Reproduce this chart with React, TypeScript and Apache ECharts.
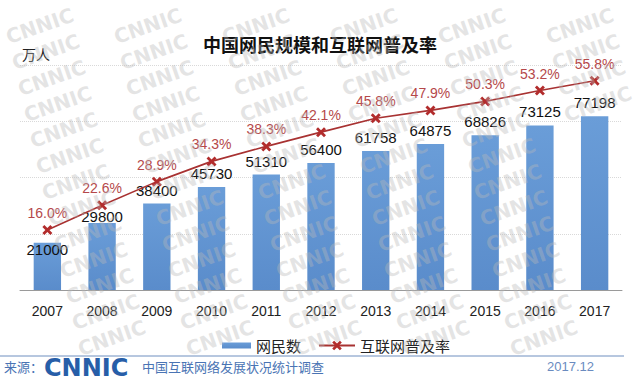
import React, { useEffect, useRef } from "react";
import * as echarts from "echarts";

const years = ["2007", "2008", "2009", "2010", "2011", "2012", "2013", "2014", "2015", "2016", "2017"];
const netizens = [21000, 29800, 38400, 45730, 51310, 56400, 61758, 64875, 68826, 73125, 77198];
const penetration = [16.0, 22.6, 28.9, 34.3, 38.3, 42.1, 45.8, 47.9, 50.3, 53.2, 55.8];
const barName = "网民数";
const lineName = "互联网普及率";
const titleText = "中国网民规模和互联网普及率";
const unitText = "万人";
const sourceLabel = "来源：";
const sourceOrg = "CNNIC";
const sourceSurvey = "中国互联网络发展状况统计调查";
const sourceDate = "2017.12";
const watermarkText = "CNNIC";

const X_SYMBOL = "path://M2,0 L5,3 L8,0 L10,2 L7,5 L10,8 L8,10 L5,7 L2,10 L0,8 L3,5 L0,2 Z";

export default function App() {
  const ref = useRef<HTMLDivElement>(null);
  useEffect(() => {
    document.body.style.margin = "0";
    if (!ref.current) return;
    const chart = echarts.init(ref.current, undefined, { renderer: "svg" });

    // decorative watermark layer (kept fully inside the canvas)
    const watermarks: any[] = [];
    const wmW = 68;
    for (let row = 0; row < 14; row++) {
      const y = 47 + row * 26;
      const shift = (row * 6) % 108;
      for (let col = -1; col < 7; col++) {
        const x = col * 108 + shift + 10;
        if (x < 9 || x + wmW > 636 || y > 382) continue;
        watermarks.push({
          type: "text",
          x,
          y,
          rotation: 0.34,
          silent: true,
          z: 100,
          style: {
            text: watermarkText,
            font: "bold 20px 'DejaVu Sans'",
            fill: "rgba(185,185,185,0.38)",
            textVerticalAlign: "bottom",
          },
        });
      }
    }

    const barData = netizens.map((v, i) => {
      if (i === 0) return { value: v, label: { offset: [0, 20] } };
      if (i === 1) return { value: v, label: { offset: [0, 7] } };
      return v;
    });

    chart.setOption({
      animation: false,
      backgroundColor: "#ffffff",
      textStyle: { fontFamily: "'Liberation Sans', Arial, 'Noto Sans CJK SC', sans-serif" },
      title: {
        text: titleText,
        left: "center",
        top: 30,
        textStyle: {
          fontSize: 18,
          fontWeight: "bold",
          color: "#111",
          fontFamily: "'Noto Sans CJK SC', sans-serif",
        },
      },
      grid: { left: 20, right: 18, top: 65, bottom: 94 },
      legend: [
        {
          data: [barName],
          left: 217,
          top: 333,
          itemWidth: 29,
          itemHeight: 6,
          icon: "rect",
          itemGap: 5,
          textStyle: { fontSize: 15, color: "#222", fontFamily: "'Noto Sans CJK SC', sans-serif" },
        },
        {
          data: [lineName],
          left: 313,
          top: 333,
          itemWidth: 36,
          itemHeight: 12,
          textStyle: { fontSize: 15, color: "#222", fontFamily: "'Noto Sans CJK SC', sans-serif" },
        },
      ],
      xAxis: {
        type: "category",
        data: years,
        axisLine: { lineStyle: { color: "#9a9a9a" } },
        axisTick: { inside: true, length: 6, lineStyle: { color: "#9a9a9a" } },
        axisLabel: { fontSize: 14, color: "#222", margin: 14 },
      },
      yAxis: [
        {
          type: "value",
          min: 0,
          max: 100000,
          interval: 25000,
          axisLabel: { show: false },
          axisLine: { show: false },
          axisTick: { show: false },
          splitLine: { lineStyle: { color: "#d9d9d9", type: "dotted" } },
        },
        {
          type: "value",
          min: 0,
          max: 60,
          interval: 15,
          show: false,
          splitLine: { show: false },
        },
      ],
      series: [
        {
          name: barName,
          type: "bar",
          data: barData,
          barWidth: "50%",
          itemStyle: {
            color: new echarts.graphic.LinearGradient(0, 0, 0, 1, [
              { offset: 0, color: "#6a9dd8" },
              { offset: 1, color: "#5a8ccb" },
            ]),
          },
          label: {
            show: true,
            position: "top",
            distance: 6,
            fontSize: 15,
            color: "#111",
          },
          z: 2,
        },
        {
          name: lineName,
          type: "line",
          yAxisIndex: 1,
          data: penetration,
          symbol: X_SYMBOL,
          symbolSize: 10,
          lineStyle: { color: "#a83232", width: 1.6 },
          itemStyle: { color: "#b22c2c" },
          label: {
            show: true,
            position: "top",
            distance: 5,
            fontSize: 14,
            color: "#b5484a",
            formatter: (p: any) => p.value.toFixed(1) + "%",
          },
          z: 3,
        },
      ],
      graphic: [
        {
          type: "text",
          left: 22,
          top: 47,
          style: {
            text: unitText,
            font: "14px 'Noto Sans CJK SC', sans-serif",
            fill: "#222",
          },
        },
        {
          type: "line",
          shape: { x1: 0, y1: 356, x2: 624, y2: 356 },
          style: { stroke: "#6f8fbf", lineWidth: 1 },
        },
        {
          type: "text",
          left: 4,
          top: 360,
          style: {
            text: sourceLabel,
            font: "13px 'Noto Sans CJK SC', sans-serif",
            fill: "#4a74b4",
          },
        },
        {
          type: "text",
          left: 44,
          top: 356,
          style: {
            text: sourceOrg,
            font: "bold 24px 'DejaVu Sans', sans-serif",
            fill: "#275ea8",
          },
        },
        {
          type: "text",
          left: 142,
          top: 360,
          style: {
            text: sourceSurvey,
            font: "13px 'Noto Sans CJK SC', sans-serif",
            fill: "#4a74b4",
          },
        },
        {
          type: "text",
          left: 547,
          top: 360,
          style: {
            text: sourceDate,
            font: "13px 'Liberation Sans', sans-serif",
            fill: "#6a8bbf",
          },
        },
        ...watermarks,
      ],
    });
    return () => chart.dispose();
  }, []);
  return <div ref={ref} style={{ width: 640, height: 384 }} />;
}
